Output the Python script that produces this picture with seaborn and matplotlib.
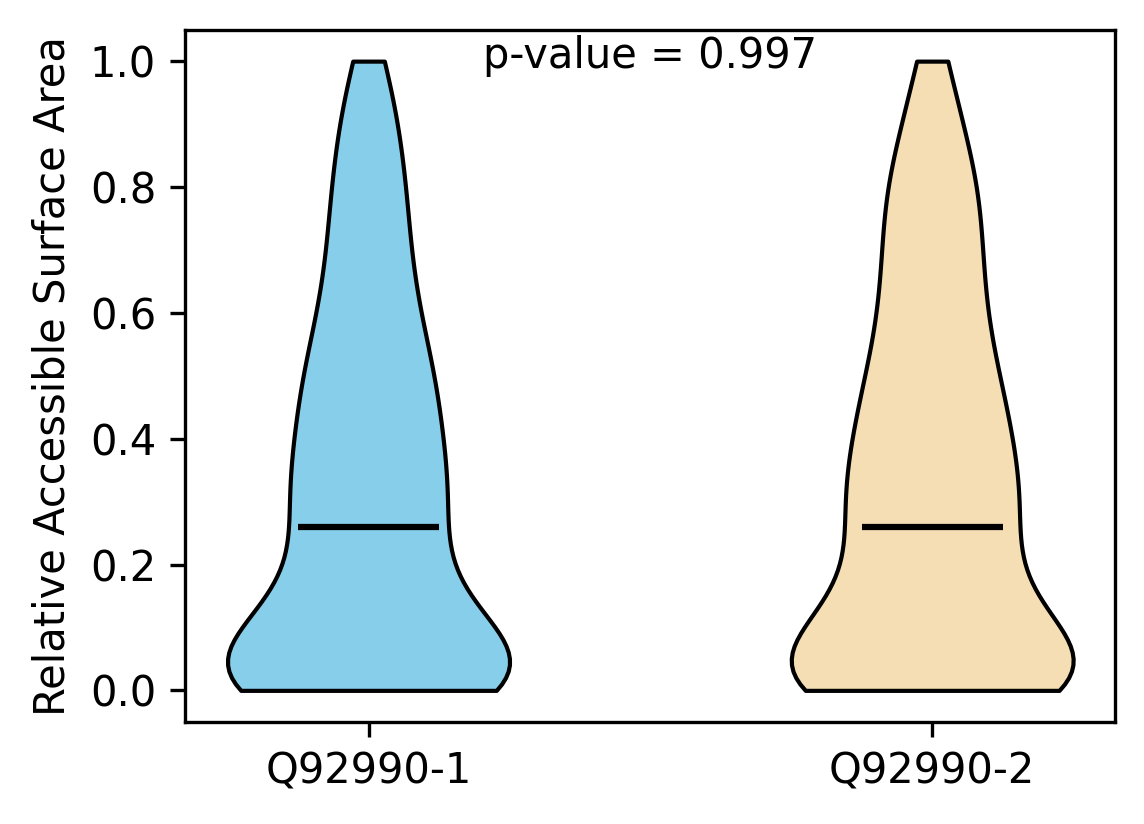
import numpy as np
import pandas as pd
import matplotlib
matplotlib.use("Agg")
import matplotlib.pyplot as plt
import seaborn as sns

# RSA values (binned) and how many residues fall in each bin, per isoform
proteins = ["Q92990-1", "Q92990-2"]
rsa_bins = [0.00, 0.05, 0.10, 0.15, 0.20, 0.26, 0.30, 0.35, 0.40, 0.45, 0.50,
            0.55, 0.60, 0.65, 0.70, 0.75, 0.80, 0.85, 0.90, 0.95, 1.00]
counts_iso1 = [112, 64, 40, 32, 26, 29, 30, 28, 28, 26, 26,
               22, 18, 17, 15, 15, 14, 13, 11, 9, 8]
counts_iso2 = [108, 62, 40, 32, 29, 34, 30, 31, 30, 27, 25,
               21, 19, 19, 18, 18, 18, 15, 10, 8, 8]
colors = ["skyblue", "wheat"]
p_value = 0.997

rsa1 = np.repeat(rsa_bins, counts_iso1)
rsa2 = np.repeat(rsa_bins, counts_iso2)
df = pd.DataFrame({
    "protein": [proteins[0]] * len(rsa1) + [proteins[1]] * len(rsa2),
    "rsa": np.concatenate([rsa1, rsa2]),
})

fig, ax = plt.subplots(figsize=(1144 / 300, 824 / 300), dpi=300)
fig.subplots_adjust(left=0.162, right=0.975, top=0.964, bottom=0.124)

sns.violinplot(data=df, x="protein", y="rsa", hue="protein", palette=colors,
               order=proteins, hue_order=proteins, cut=0, inner=None,
               density_norm="width", width=0.5, linewidth=1, linecolor="black",
               saturation=1, legend=False, ax=ax)
for c in ax.collections:
    c.set_alpha(1)

# median line, half the violin width
medians = [np.median(rsa1), np.median(rsa2)]
for i, m in enumerate(medians):
    ax.hlines(m, i - 0.125, i + 0.125, color="black", linewidth=1.5)

ax.text(0.5, 0.945, f"p-value = {p_value}", transform=ax.transAxes,
        ha="center", va="baseline", fontsize=10)

ax.set_xlim(-0.325, 1.325)
ax.set_ylim(-0.05, 1.05)
ax.set_xlabel("")
ax.set_ylabel("Relative Accessible Surface Area")
ax.set_yticks([0.0, 0.2, 0.4, 0.6, 0.8, 1.0])

fig.savefig("out.png", dpi=300)
